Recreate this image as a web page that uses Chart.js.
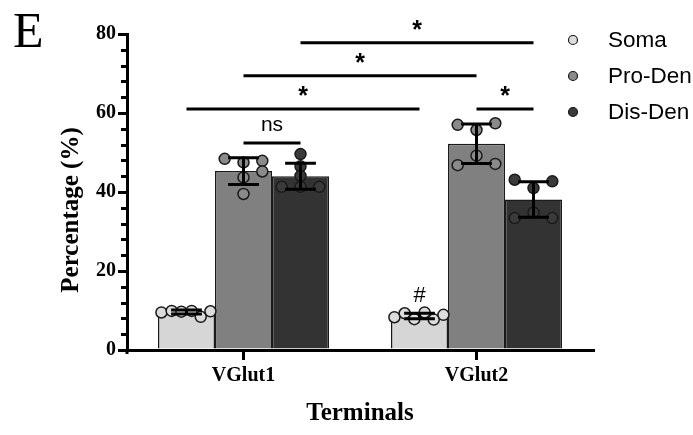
<!DOCTYPE html>
<html>
<head>
<meta charset="utf-8">
<script src="https://cdn.jsdelivr.net/npm/chart.js@4.4.0/dist/chart.umd.min.js"></script>
<style>html,body{margin:0;padding:0;background:#fff}</style>
</head>
<body>
<canvas id="c" width="693" height="435"></canvas>
<script>
// data
const GROUPS = ['VGlut1', 'VGlut2'];
const SERIES = ['Soma', 'Pro-Den', 'Dis-Den'];
const MEAN_SOMA = [9.6, 8.6];
const MEAN_PRO = [45.3, 52.2];
const MEAN_DIS = [44.0, 38.1];
const SD_SOMA = [0.5, 0.7];
const SD_PRO = [3.4, 5.0];
const SD_DIS = [3.3, 4.5];
// individual animals, per group
const PTS_SOMA = [[9.5, 9.9, 9.7, 9.9, 8.4, 9.8], [8.3, 9.3, 7.8, 9.5, 7.7, 8.9]];
const PTS_PRO = [[48.4, 47.5, 47.9, 45.2, 43.7, 39.5], [57.0, 57.4, 55.7, 49.2, 46.8, 47.1]];
const PTS_DIS = [[49.6, 46.5, 44.1, 41.3, 41.3, 41.3], [43.1, 42.7, 41.0, 34.8, 33.4, 33.4]];
// how the points fan out inside a bar (fraction of bar width)
const SPREAD_SOMA = [[-0.44, -0.26, -0.09, 0.09, 0.25, 0.42], [-0.44, -0.26, -0.09, 0.09, 0.25, 0.42]];
const SPREAD_PRO = [[-0.33, 0, 0.33, 0.33, 0, 0], [-0.33, 0.33, 0, 0, -0.33, 0.33]];
const SPREAD_DIS = [[0, 0, 0, -0.33, 0, 0.33], [-0.33, 0.33, 0, 0, -0.33, 0.33]];
const Y_MAX = 80;
const Y_STEP = 20;
const Y_MINOR = 4;
// significance bars: [group, series] to [group, series], height, label
const COMPARISONS = [
  { a: [0, 1], b: [0, 2], y: 52.4, label: 'ns' },
  { a: [0, 0], b: [1, 0], y: 61.0, label: '*' },
  { a: [1, 1], b: [1, 2], y: 61.0, label: '*' },
  { a: [0, 1], b: [1, 1], y: 69.4, label: '*' },
  { a: [0, 2], b: [1, 2], y: 77.8, label: '*' },
];
const HASH_GROUP = 1; // '#' over VGlut2 soma

const FILLS = ['#d6d6d6', '#808080', '#333333'];
const DOT_FILLS = ['#dcdcdc', '#8a8a8a', '#3a3a3a'];
const SERIF = '"Liberation Serif", "Times New Roman", serif';
const SANS = '"Liberation Sans", Arial, sans-serif';

const means = [MEAN_SOMA, MEAN_PRO, MEAN_DIS];
const sds = [SD_SOMA, SD_PRO, SD_DIS];
const pts = [PTS_SOMA, PTS_PRO, PTS_DIS];
const spreads = [SPREAD_SOMA, SPREAD_PRO, SPREAD_DIS];

const barSets = SERIES.map((name, si) => ({
  label: name, data: means[si],
  backgroundColor: FILLS[si], borderColor: '#1a1a1a', borderWidth: 1.5,
  categoryPercentage: 0.734, barPercentage: 1.0,
}));

function dot(ctx, x, y, r, fill) {
  ctx.beginPath();
  ctx.arc(x, y, r, 0, Math.PI * 2);
  ctx.fillStyle = fill;
  ctx.fill();
  ctx.stroke();
}

const extras = {
  id: 'extras',
  afterDatasetsDraw(chart) {
    const ctx = chart.ctx, y = chart.scales.y;
    ctx.save();
    // individual points
    ctx.strokeStyle = '#1a1a1a';
    ctx.lineWidth = 1.5;
    SERIES.forEach((_, si) => {
      chart.getDatasetMeta(si).data.forEach((bar, gi) => {
        pts[si][gi].forEach((v, k) => {
          dot(ctx, bar.x + spreads[si][gi][k] * bar.width, y.getPixelForValue(v), 5.5, DOT_FILLS[si]);
        });
      });
    });
    // mean +/- SD
    ctx.strokeStyle = '#000';
    ctx.lineWidth = 3;
    SERIES.forEach((_, si) => {
      chart.getDatasetMeta(si).data.forEach((bar, gi) => {
        const m = means[si][gi], s = sds[si][gi];
        const t = y.getPixelForValue(m + s), b = y.getPixelForValue(m - s);
        const hw = bar.width * 0.27;
        ctx.beginPath();
        ctx.moveTo(bar.x, t); ctx.lineTo(bar.x, b);
        ctx.moveTo(bar.x - hw, t); ctx.lineTo(bar.x + hw, t);
        ctx.moveTo(bar.x - hw, b); ctx.lineTo(bar.x + hw, b);
        ctx.stroke();
      });
    });
    ctx.restore();
  },
  afterDraw(chart) {
    const ctx = chart.ctx, y = chart.scales.y, area = chart.chartArea;
    ctx.save();
    // minor ticks on y, plus the little overhang below the x axis
    ctx.strokeStyle = '#000';
    ctx.lineWidth = 3;
    for (let v = 0; v <= Y_MAX; v += Y_MINOR) {
      if (v % Y_STEP === 0) continue;
      const py = Math.round(y.getPixelForValue(v)) + 0.5;
      ctx.beginPath();
      ctx.moveTo(area.left - 6, py); ctx.lineTo(area.left, py);
      ctx.stroke();
    }
    ctx.beginPath();
    ctx.moveTo(area.left, area.bottom); ctx.lineTo(area.left, area.bottom + 4);
    ctx.stroke();
    // significance bars
    const cx = (g, s) => chart.getDatasetMeta(s).data[g].x;
    COMPARISONS.forEach(c => {
      const py = y.getPixelForValue(c.y);
      const x1 = cx(c.a[0], c.a[1]), x2 = cx(c.b[0], c.b[1]);
      ctx.beginPath();
      ctx.moveTo(x1, py); ctx.lineTo(x2, py);
      ctx.stroke();
      ctx.fillStyle = '#000';
      ctx.textAlign = 'center';
      ctx.textBaseline = 'alphabetic';
      if (c.label === 'ns') {
        ctx.font = '21px ' + SANS;
        ctx.fillText(c.label, (x1 + x2) / 2, py - 12);
      } else {
        ctx.font = 'bold 25px ' + SANS;
        ctx.fillText(c.label, (x1 + x2) / 2, py - 5);
      }
    });
    // '#'
    const hb = chart.getDatasetMeta(0).data[HASH_GROUP];
    ctx.font = '22px ' + SANS;
    ctx.fillText('#', hb.x, y.getPixelForValue(MEAN_SOMA[HASH_GROUP] + SD_SOMA[HASH_GROUP]) - 11);
    // legend
    ctx.textAlign = 'left';
    ctx.textBaseline = 'middle';
    ctx.font = '22.5px ' + SANS;
    ctx.lineWidth = 1.2;
    ctx.strokeStyle = '#1a1a1a';
    SERIES.forEach((name, si) => {
      const ly = 40 + si * 36;
      dot(ctx, 573, ly, 4.5, DOT_FILLS[si]);
      ctx.fillStyle = '#000';
      ctx.fillText(name, 608, ly + 1);
    });
    // y title
    ctx.save();
    ctx.translate(72, 210);
    ctx.rotate(-Math.PI / 2);
    ctx.textAlign = 'center';
    ctx.font = 'bold 25px ' + SERIF;
    ctx.fillText('Percentage (%)', 0, 0);
    ctx.restore();
    // panel letter
    ctx.textAlign = 'left';
    ctx.textBaseline = 'alphabetic';
    ctx.font = '50px ' + SERIF;
    ctx.fillText('E', 13, 47);
    ctx.restore();
  }
};

new Chart(document.getElementById('c'), {
  type: 'bar',
  data: { labels: GROUPS, datasets: barSets },
  plugins: [extras],
  options: {
    responsive: false, animation: false, devicePixelRatio: 1,
    layout: { padding: { top: 34, right: 100, bottom: 0, left: 0 } },
    plugins: { legend: { display: false }, tooltip: { enabled: false } },
    scales: {
      x: {
        offset: true,
        afterFit: s => { s.height = 85; },
        border: { color: '#000', width: 3 },
        grid: { offset: false, drawOnChartArea: false, color: '#000', lineWidth: 3, tickLength: 10 },
        ticks: { color: '#000', padding: 4, font: { family: SERIF, size: 20, weight: 'bold' } },
        title: { display: true, text: 'Terminals', color: '#000', padding: { top: 0, bottom: 6 },
                 font: { family: SERIF, size: 25, weight: 'bold' } },
      },
      y: {
        min: 0, max: Y_MAX,
        afterFit: s => { s.width = 127; },
        border: { color: '#000', width: 3 },
        grid: { drawOnChartArea: false, color: '#000', lineWidth: 3, tickLength: 9 },
        ticks: { stepSize: Y_STEP, color: '#000', padding: 2, font: { family: SERIF, size: 20, weight: 'bold' } },
      },
    },
  },
});
</script>
</body>
</html>
